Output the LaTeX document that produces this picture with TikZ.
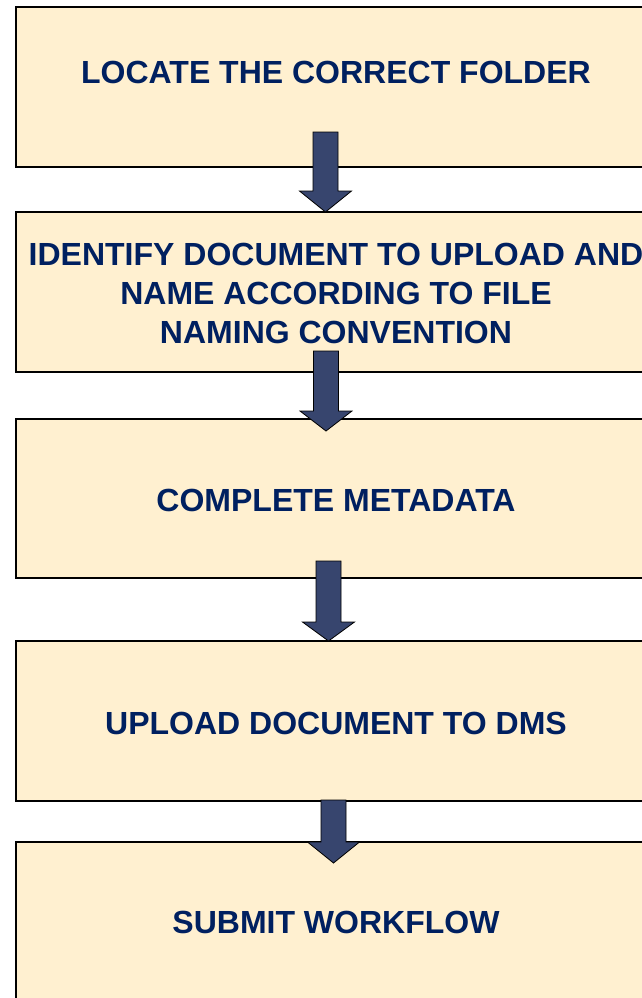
\documentclass[tikz,border=0pt]{standalone}
\usepackage{fontspec}
\setmainfont{Liberation Sans}
\usetikzlibrary{calc}
\definecolor{boxfill}{RGB}{255,240,208}
\definecolor{navytext}{RGB}{0,32,96}
\definecolor{arrowfill}{RGB}{55,69,110}
\tikzset{
  stepbox/.style={draw=black, line width=1.6pt, fill=boxfill},
  steptext/.style={font=\bfseries\fontsize{32}{39}\selectfont, text=navytext, inner sep=0pt, align=center},
  blockarrow/.style={draw=black, line width=0.8pt, fill=arrowfill, line join=miter}
}
\newcommand{\blkarrow}[3]{% start coord, end coord, head length
  \draw[blockarrow] ($(#1)+(-12.5,0)$) -- ($(#1)+(12.5,0)$) -- ($(#2)+(12.5,-#3)$) -- ($(#2)+(26,-#3)$) -- (#2) -- ($(#2)+(-26,-#3)$) -- ($(#2)+(-12.5,-#3)$) -- cycle;
}
\begin{document}
\begin{tikzpicture}[x=1pt,y=-1pt]
\useasboundingbox (0,0) rectangle (642,998);
\fill[white] (0,0) rectangle (642,998);
% boxes
\draw[stepbox] (16,7) rectangle (660,167);
\draw[stepbox] (16,212) rectangle (660,372);
\draw[stepbox] (16,419) rectangle (660,578);
\draw[stepbox] (16,641) rectangle (660,801);
\draw[stepbox] (16,842) rectangle (660,1010);
% texts
\node[steptext, anchor=base] (t1) at (336,84) {LOCATE THE CORRECT FOLDER};
\node[steptext, anchor=north] (t2) at (336,243) {IDENTIFY DOCUMENT TO UPLOAD AND\\NAME ACCORDING TO FILE\\NAMING CONVENTION};
\node[steptext, anchor=base] (t3) at (336,511) {COMPLETE METADATA};
\node[steptext, anchor=base] (t4) at (336,734) {UPLOAD DOCUMENT TO DMS};
\node[steptext, anchor=base] (t5) at (336,933) {SUBMIT WORKFLOW};
% arrows
\coordinate (a1s) at (325.5,132); \coordinate (a1e) at (325.5,212);
\coordinate (a2s) at (326,351);   \coordinate (a2e) at (326,431);
\coordinate (a3s) at (328.5,561); \coordinate (a3e) at (328.5,641);
\coordinate (a4s) at (333.5,800); \coordinate (a4e) at (333.5,863);
\blkarrow{a1s}{a1e}{21}
\blkarrow{a2s}{a2e}{20}
\blkarrow{a3s}{a3e}{19}
\blkarrow{a4s}{a4e}{21}
\end{tikzpicture}
\end{document}
